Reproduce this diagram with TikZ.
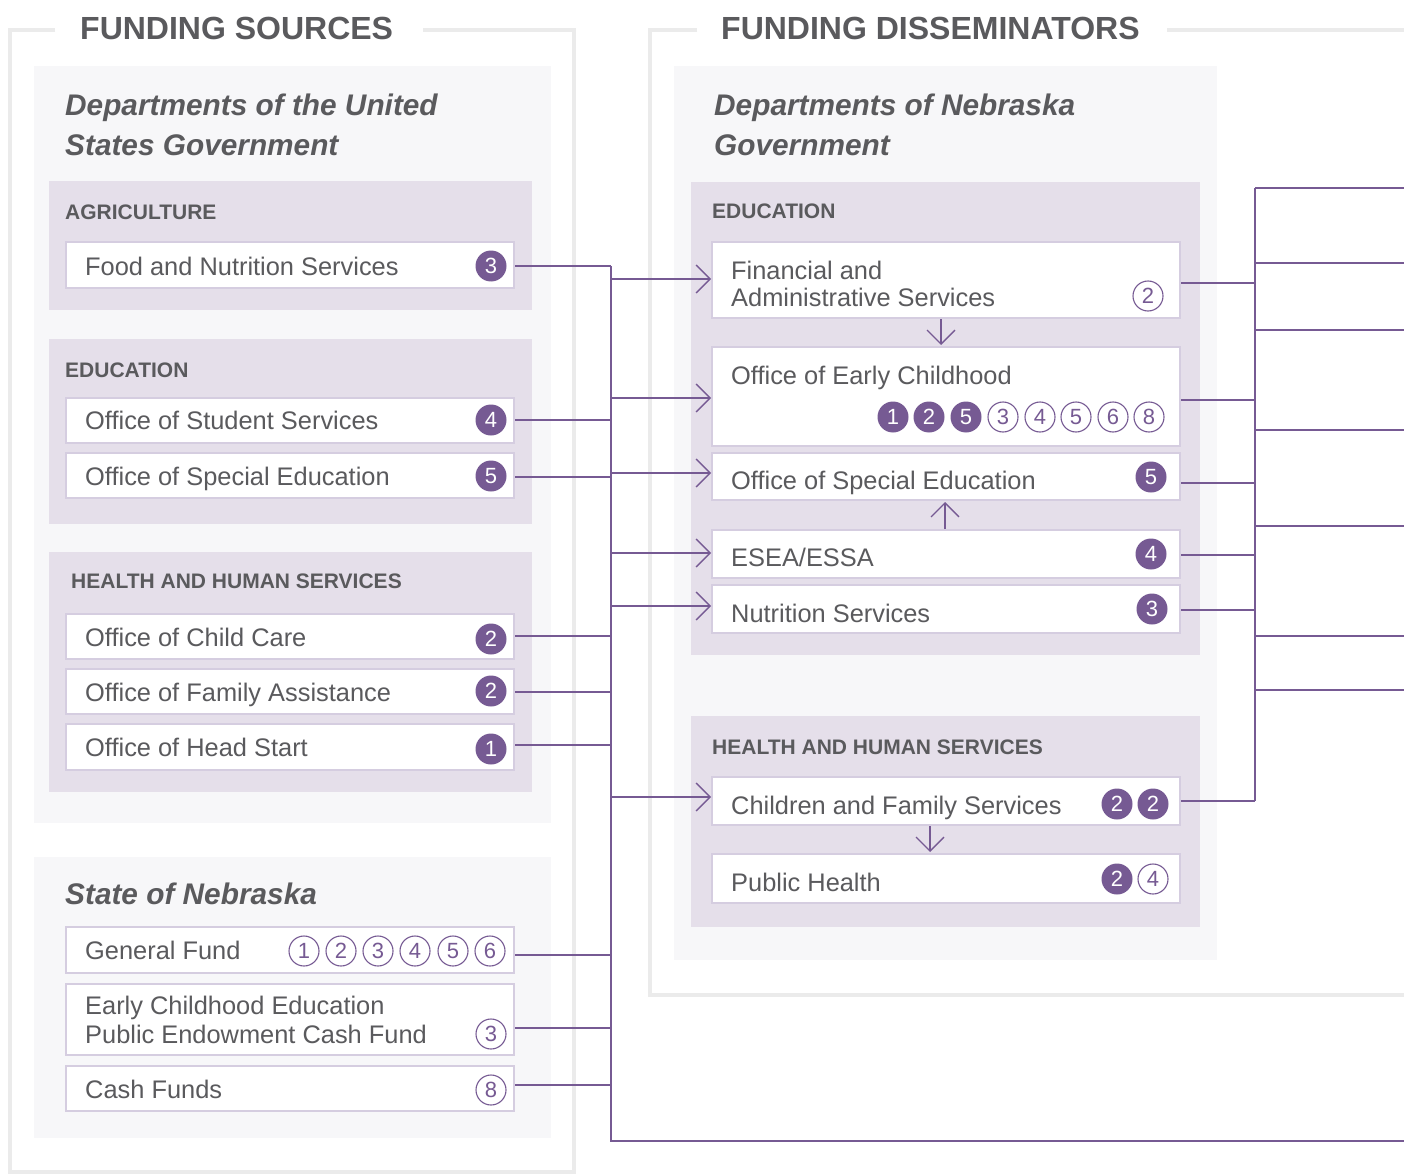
\documentclass[tikz,border=0pt]{standalone}
\usepackage{fontspec}
\setmainfont{Liberation Sans}
\usetikzlibrary{arrows.meta,calc}
\definecolor{purp}{HTML}{765A93}
\definecolor{txt}{HTML}{5A5A5D}
\definecolor{framec}{HTML}{EBEBEB}
\definecolor{panelc}{HTML}{F7F7F9}
\definecolor{lavc}{HTML}{E5DFEA}
\definecolor{bordc}{HTML}{D5CDE0}
\begin{document}
\begin{tikzpicture}[x=1pt,y=-1pt,
  frameline/.style={draw=framec,line width=4pt},
  wbox/.style={draw=bordc,line width=2pt,fill=white,inner sep=0pt},
  lbl/.style={anchor=base west,inner sep=0pt,text=txt},
  bigtitle/.style={lbl,font=\fontsize{32}{32}\selectfont\bfseries},
  ital/.style={lbl,font=\fontsize{29.8}{40}\selectfont\bfseries\itshape},
  sect/.style={lbl,font=\fontsize{21}{21}\selectfont\bfseries},
  btxt/.style={lbl,font=\fontsize{25.4}{27}\selectfont},
  bf/.style={circle,minimum size=31pt,inner sep=0pt,fill=purp,text=white,font=\fontsize{22}{22}\selectfont},
  bo/.style={circle,minimum size=30pt,inner sep=0pt,draw=purp,line width=1.1pt,fill=white,text=purp,font=\fontsize{22}{22}\selectfont},
  conn/.style={draw=purp,line width=1.3pt},
  arr/.style={conn,-{Straight Barb[length=14pt,width=28pt]}},
]
\useasboundingbox (0,0) rectangle (1404,1174);
\fill[white] (0,0) rectangle (1404,1174);

% outer frames
\draw[frameline] (55,30) -- (10,30) -- (10,1172) -- (574,1172) -- (574,30) -- (423,30);
\draw[frameline] (697,30) -- (650,30) -- (650,995) -- (1404,995);
\draw[frameline] (1167,30) -- (1404,30);
\node[bigtitle] (h1) at (80,40) {FUNDING SOURCES};
\node[bigtitle] (h2) at (721,40) {FUNDING DISSEMINATORS};

% panels
\fill[panelc] (34,66) rectangle (551,823);
\fill[panelc] (34,857) rectangle (551,1138);
\fill[panelc] (674,66) rectangle (1217,960);
\fill[lavc] (49,181) rectangle (532,310);
\fill[lavc] (49,339) rectangle (532,524);
\fill[lavc] (49,552) rectangle (532,792);
\fill[lavc] (691,182) rectangle (1200,655);
\fill[lavc] (691,716) rectangle (1200,927);

% titles
\node[ital] (t1a) at (65,116) {Departments of the United};
\node[ital] (t1b) at (65,156) {States Government};
\node[ital] (t2a) at (714,116) {Departments of Nebraska};
\node[ital] (t2b) at (714,156) {Government};
\node[ital] (t3) at (65,904) {State of Nebraska};
\node[sect] (s1) at (65,220) {AGRICULTURE};
\node[sect] (s2) at (65,377) {EDUCATION};
\node[sect] (s3) at (71,588) {HEALTH AND HUMAN SERVICES};
\node[sect] (s4) at (712,219) {EDUCATION};
\node[sect] (s5) at (712,754) {HEALTH AND HUMAN SERVICES};

% left boxes
\node[wbox,minimum width=448pt,minimum height=46pt] (fns) at (290,265) {};
\node[wbox,minimum width=448pt,minimum height=45pt] (oss) at (290,420.5) {};
\node[wbox,minimum width=448pt,minimum height=45pt] (ose) at (290,475.5) {};
\node[wbox,minimum width=448pt,minimum height=45pt] (occ) at (290,636.5) {};
\node[wbox,minimum width=448pt,minimum height=45pt] (ofa) at (290,691.5) {};
\node[wbox,minimum width=448pt,minimum height=46pt] (ohs) at (290,747) {};
\node[wbox,minimum width=448pt,minimum height=46pt] (gf) at (290,950) {};
\node[wbox,minimum width=448pt,minimum height=71pt] (ece) at (290,1019.5) {};
\node[wbox,minimum width=448pt,minimum height=45pt] (cf) at (290,1088.5) {};

\node[btxt] (tfns) at (85,275) {Food and Nutrition Services};
\node[btxt] (toss) at (85,429) {Office of Student Services};
\node[btxt] (tose) at (85,485) {Office of Special Education};
\node[btxt] (tocc) at (85,646) {Office of Child Care};
\node[btxt] (tofa) at (85,701) {Office of Family Assistance};
\node[btxt] (tohs) at (85,756) {Office of Head Start};
\node[btxt] (tgf) at (85,959) {General Fund};
\node[btxt] (tecea) at (85,1014) {Early Childhood Education};
\node[btxt] (teceb) at (85,1043) {Public Endowment Cash Fund};
\node[btxt] (tcf) at (85,1098) {Cash Funds};

\node[bf] (bfns) at (491,266) {3};
\node[bf] (boss) at (491,420) {4};
\node[bf] (bose) at (491,476) {5};
\node[bf] (bocc) at (491,639) {2};
\node[bf] (bofa) at (491,691) {2};
\node[bf] (bohs) at (491,749) {1};
\node[bo] (bgf1) at (304,951) {1};
\node[bo] (bgf2) at (341,951) {2};
\node[bo] (bgf3) at (378,951) {3};
\node[bo] (bgf4) at (415,951) {4};
\node[bo] (bgf5) at (453,951) {5};
\node[bo] (bgf6) at (490,951) {6};
\node[bo] (bece) at (491,1034) {3};
\node[bo] (bcf) at (491,1090) {8};

% right boxes
\node[wbox,minimum width=468pt,minimum height=76pt] (fas) at (946,280) {};
\node[wbox,minimum width=468pt,minimum height=99pt] (oec) at (946,396.5) {};
\node[wbox,minimum width=468pt,minimum height=47pt] (rse) at (946,476.5) {};
\node[wbox,minimum width=468pt,minimum height=48pt] (esea) at (946,554) {};
\node[wbox,minimum width=468pt,minimum height=48pt] (ns) at (946,609) {};
\node[wbox,minimum width=468pt,minimum height=48pt] (cfs) at (946,801) {};
\node[wbox,minimum width=468pt,minimum height=49pt] (ph) at (946,878.5) {};

\node[btxt] (tfasa) at (731,279) {Financial and};
\node[btxt] (tfasb) at (731,306) {Administrative Services};
\node[btxt] (toec) at (731,384) {Office of Early Childhood};
\node[btxt] (trse) at (731,489) {Office of Special Education};
\node[btxt] (tesea) at (731,566) {ESEA/ESSA};
\node[btxt] (tns) at (731,622) {Nutrition Services};
\node[btxt] (tcfs) at (731,814) {Children and Family Services};
\node[btxt] (tph) at (731,891) {Public Health};

\node[bo] (bfas) at (1148,296) {2};
\node[bf] (boec1) at (893,417) {1};
\node[bf] (boec2) at (929,417) {2};
\node[bf] (boec3) at (966,417) {5};
\node[bo] (boec4) at (1003,417) {3};
\node[bo] (boec5) at (1040,417) {4};
\node[bo] (boec6) at (1076,417) {5};
\node[bo] (boec7) at (1113,417) {6};
\node[bo] (boec8) at (1149,417) {8};
\node[bf] (brse) at (1151,477) {5};
\node[bf] (besea) at (1151,554) {4};
\node[bf] (bns) at (1152,609) {3};
\node[bf] (bcfs1) at (1117,804) {2};
\node[bf] (bcfs2) at (1153,804) {2};
\node[bf] (bph1) at (1117,879) {2};
\node[bo] (bph2) at (1153,879) {4};

% left bus
\coordinate (lbt) at (611,266);
\coordinate (lbb) at (611,1141);
\coordinate (endb) at (1404,1141);
\draw[conn] (lbt) -- (lbb) -- (endb);
\draw[conn] ($(fns.east)+(0,1)$) -- (lbt);
\coordinate (c2) at ($(oss.east)+(0,-0.5)$);
\coordinate (c3) at ($(ose.east)+(0,1.5)$);
\coordinate (c4) at ($(occ.east)+(0,-0.5)$);
\coordinate (c5) at ($(ofa.east)+(0,0.5)$);
\coordinate (c6) at ($(ohs.east)+(0,-2)$);
\coordinate (c7) at ($(gf.east)+(0,5)$);
\coordinate (c8) at ($(ece.east)+(0,8.5)$);
\coordinate (c9) at ($(cf.east)+(0,-3.5)$);
\foreach \c in {c2,c3,c4,c5,c6,c7,c8,c9} \draw[conn] (\c) -- (\c -| lbt);

% arrows into disseminators
\coordinate (a1) at ($(fas.west)+(0,-1)$);
\coordinate (a2) at ($(oec.west)+(0,1.5)$);
\coordinate (a3) at ($(rse.west)+(0,-3.5)$);
\coordinate (a4) at ($(esea.west)+(0,-1)$);
\coordinate (a5) at ($(ns.west)+(0,-3)$);
\coordinate (a6) at ($(cfs.west)+(0,-4)$);
\foreach \a in {a1,a2,a3,a4,a5,a6} \draw[arr] (\a -| lbt) -- (\a);

% internal arrows
\draw[arr] ($(fas.south)+(-5,0)$) -- ($(oec.north)+(-5,-1)$);
\draw[arr] ($(esea.north)+(-1,0)$) -- ($(rse.south)+(-1,1)$);
\draw[arr] ($(cfs.south)+(-16,0)$) -- ($(ph.north)+(-16,-1)$);

% right bus
\coordinate (rbt) at (1255,188);
\coordinate (rbb) at (1255,801);
\draw[conn] (rbt) -- (rbb);
\coordinate (r1) at ($(fas.east)+(0,3)$);
\coordinate (r2) at ($(oec.east)+(0,3.5)$);
\coordinate (r3) at ($(rse.east)+(0,6.5)$);
\coordinate (r4) at ($(esea.east)+(0,1)$);
\coordinate (r5) at ($(ns.east)+(0,1)$);
\coordinate (r6) at (cfs.east);
\foreach \r in {r1,r2,r3,r4,r5,r6} \draw[conn] (\r) -- (\r -| rbt);
\coordinate (o1) at (1404,188);
\coordinate (o2) at (1404,263);
\coordinate (o3) at (1404,330);
\coordinate (o4) at (1404,430);
\coordinate (o5) at (1404,526);
\coordinate (o6) at (1404,636);
\coordinate (o7) at (1404,690);
\draw[conn] (rbt) -- (o1);
\foreach \o in {o2,o3,o4,o5,o6,o7} \draw[conn] (\o -| rbt) -- (\o);
\end{tikzpicture}
\end{document}
